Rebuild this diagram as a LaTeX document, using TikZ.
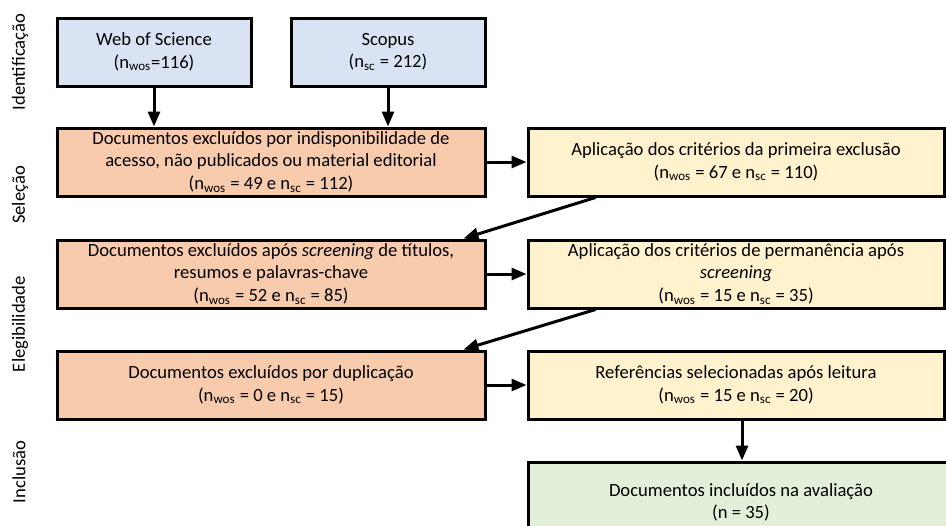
\documentclass[tikz,border=0pt]{standalone}
\usepackage{fontspec}
\setmainfont{Carlito}
\usepackage{tikz}
\usetikzlibrary{positioning, calc}
\usetikzlibrary{arrows.meta}

\begin{document}
\begin{tikzpicture}[node distance=0.80cm, font=\fontsize{10.6}{12.6}\selectfont, align=center, >={Triangle[length=3mm, width=2.4mm]}, line width=0.06cm,
        box/.style={draw, rectangle, text=black, minimum height=1.36cm, inner sep=0pt},
        srcbox/.style={box, fill=lightblue, minimum width=3.88cm},
        excbox/.style={box, fill=lightorange, minimum width=8.56cm},
        selbox/.style={box, fill=lightyellow, minimum width=8.32cm},
        incbox/.style={box, fill=lightgreen, minimum width=8.52cm, minimum height=1.6cm},
        phase/.style={rotate=90, text=black}]
        % Define colors
        \definecolor{lightblue}{RGB}{218, 227, 243}
        \definecolor{lightorange}{RGB}{248, 203, 173}
        \definecolor{lightyellow}{RGB}{255, 242, 204}
        \definecolor{lightgreen}{RGB}{226, 240, 217}

        \useasboundingbox (0,0) rectangle (18.92,-10.5);

        % Phases
        \node[phase] (ident) at (0.40,-1.24) {Identificação};
        \node[phase] (selec) at (0.40,-3.90) {Seleção};
        \node[phase] (elegi) at (0.40,-6.48) {Elegibilidade};
        \node[phase] (inclu) at (0.38,-9.44) {Inclusão};

        % Nodes
        \node[srcbox] (wos) at (3.08,-1.04) {Web of Science\\(n\textsubscript{wos}=116)};
        \node[srcbox, right=0.74cm of wos] (scopus) {Scopus\\(n\textsubscript{sc} = 212)};

        \node[excbox, below=0.78cm of wos.south west, anchor=north west] (exc1) {Documentos excluídos por indisponibilidade de\\acesso, não publicados ou material editorial\\(n\textsubscript{wos} = 49 e n\textsubscript{sc} = 112)};
        \node[selbox, right=of exc1] (sel1) {Aplicação dos critérios da primeira exclusão\\(n\textsubscript{wos} = 67 e n\textsubscript{sc} = 110)};

        \node[excbox, below=0.82cm of exc1] (exc2) {Documentos excluídos após \textit{screening} de títulos,\\resumos e palavras-chave\\(n\textsubscript{wos} = 52 e n\textsubscript{sc} = 85)};
        \node[selbox, right=of exc2] (sel2) {Aplicação dos critérios de permanência após\\\textit{screening}\\(n\textsubscript{wos} = 15 e n\textsubscript{sc} = 35)};

        \node[excbox, below=of exc2] (exc3) {Documentos excluídos por duplicação\\(n\textsubscript{wos} = 0 e n\textsubscript{sc} = 15)};
        \node[selbox, right=of exc3] (sel3) {Referências selecionadas após leitura\\(n\textsubscript{wos} = 15 e n\textsubscript{sc} = 20)};

        \node[incbox, below=of sel3.south west, anchor=north west] (inc) {Documentos incluídos na avaliação\\(n = 35)};

        % Edges
        \draw[->] (wos) -- (wos |- exc1.north);
        \draw[->] (scopus) -- (scopus |- exc1.north);
        \draw[->] (exc1) -- (sel1);
        \draw[->] ($(sel1.south west)+(1.38,0)$) -- ($(exc2.north east)+(-0.46,0)$);
        \draw[->] (exc2) -- (sel2);
        \draw[->] ($(sel2.south west)+(1.38,0)$) -- ($(exc3.north east)+(-0.46,0)$);
        \draw[->] (exc3) -- (sel3);
        \draw[->] ($(sel3.south)+(0.12,0)$) -- ($(sel3.south |- inc.north)+(0.12,0)$);
    \end{tikzpicture}
\end{document}
